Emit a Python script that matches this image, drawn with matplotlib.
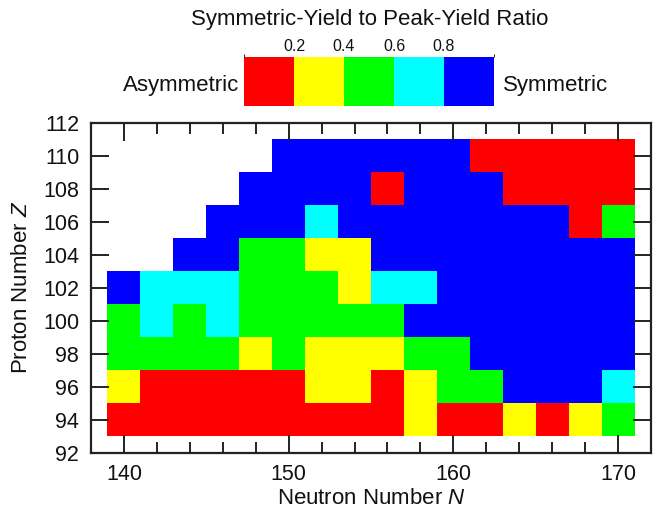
import numpy as np
import matplotlib
matplotlib.use("Agg")
import matplotlib.pyplot as plt
from matplotlib.colors import ListedColormap, BoundaryNorm
from matplotlib.cm import ScalarMappable

plt.rcParams['font.family'] = ['Liberation Sans', 'DejaVu Sans']
plt.rcParams['mathtext.fontset'] = 'custom'
plt.rcParams['mathtext.rm'] = 'Liberation Sans'
plt.rcParams['mathtext.it'] = 'Liberation Sans:italic'

# Neutron and proton numbers of the nuclei
neutrons = [140, 142, 144, 146, 148, 150, 152, 154, 156, 158, 160, 162, 164, 166, 168, 170]
protons = [94, 96, 98, 100, 102, 104, 106, 108, 110]

# Symmetric-yield / peak-yield ratio per nucleus (rows: Z, columns: N); None = not computed
_ = None
ratio_z94 = [0.1, 0.1, 0.1, 0.1, 0.1, 0.1, 0.1, 0.1, 0.1, 0.3, 0.1, 0.1, 0.3, 0.1, 0.3, 0.5]
ratio_z96 = [0.3, 0.1, 0.1, 0.1, 0.1, 0.1, 0.3, 0.3, 0.1, 0.3, 0.5, 0.5, 0.9, 0.9, 0.9, 0.7]
ratio_z98 = [0.5, 0.5, 0.5, 0.5, 0.3, 0.5, 0.3, 0.3, 0.3, 0.5, 0.5, 0.9, 0.9, 0.9, 0.9, 0.9]
ratio_z100 = [0.5, 0.7, 0.5, 0.7, 0.5, 0.5, 0.5, 0.5, 0.5, 0.9, 0.9, 0.9, 0.9, 0.9, 0.9, 0.9]
ratio_z102 = [0.9, 0.7, 0.7, 0.7, 0.5, 0.5, 0.5, 0.3, 0.7, 0.7, 0.9, 0.9, 0.9, 0.9, 0.9, 0.9]
ratio_z104 = [_, _, 0.9, 0.9, 0.5, 0.5, 0.3, 0.3, 0.9, 0.9, 0.9, 0.9, 0.9, 0.9, 0.9, 0.9]
ratio_z106 = [_, _, _, 0.9, 0.9, 0.9, 0.7, 0.9, 0.9, 0.9, 0.9, 0.9, 0.9, 0.9, 0.1, 0.5]
ratio_z108 = [_, _, _, _, 0.9, 0.9, 0.9, 0.9, 0.1, 0.9, 0.9, 0.9, 0.1, 0.1, 0.1, 0.1]
ratio_z110 = [_, _, _, _, _, 0.9, 0.9, 0.9, 0.9, 0.9, 0.9, 0.1, 0.1, 0.1, 0.1, 0.1]

ratio_rows = [ratio_z94, ratio_z96, ratio_z98, ratio_z100, ratio_z102,
              ratio_z104, ratio_z106, ratio_z108, ratio_z110]

bounds = [0.0, 0.2, 0.4, 0.6, 0.8, 1.0]
colors = ['#ff0000', '#ffff00', '#00ff00', '#00ffff', '#0000ff']
cbar_ticks = [0.2, 0.4, 0.6, 0.8]

ratio = np.array([[np.nan if v is None else v for v in row] for row in ratio_rows], dtype=float)
ratio = np.ma.masked_invalid(ratio)

cmap = ListedColormap(colors)
norm = BoundaryNorm(bounds, cmap.N)

W, H = 669, 519
fig = plt.figure(figsize=(W / 100, H / 100), dpi=100)

ax = fig.add_axes([91 / W, 1 - 452.7 / H, (651 - 91) / W, (452.7 - 122.7) / H])

n_arr = np.array(neutrons)
z_arr = np.array(protons)
x_edges = np.append(n_arr - 1, n_arr[-1] + 1)
y_edges = np.append(z_arr - 1, z_arr[-1] + 1)
ax.pcolormesh(x_edges, y_edges, ratio, cmap=cmap, norm=norm, edgecolors='none')

ax.set_xlim(138, 172)
ax.set_ylim(92, 112)
ax.set_xticks([140, 150, 160, 170])
ax.set_xticks(np.arange(140, 172, 2), minor=True)
ax.set_yticks(np.arange(92, 113, 2))

ax.tick_params(which='both', direction='in', top=True, right=True, labelsize=15.5,
               width=1.4, color='#222222', labelcolor='#111111')
ax.tick_params(which='major', length=13)
ax.tick_params(which='minor', length=8)
ax.tick_params(axis='x', which='major', pad=8)
ax.tick_params(axis='y', which='major', pad=8.5)
for s in ax.spines.values():
    s.set_linewidth(1.6)
    s.set_color('#222222')

ax.set_xlabel('Neutron Number $\\mathit{N}$', fontsize=16, color='#111111', labelpad=2)
ax.set_ylabel('Proton Number $\\mathit{Z}$', fontsize=16, color='#111111', labelpad=8)

# Discrete colour key above the map
cax = fig.add_axes([244 / W, 1 - 106 / H, (494 - 244) / W, (106 - 57) / H])
cb = fig.colorbar(ScalarMappable(norm=norm, cmap=cmap), cax=cax,
                  orientation='horizontal', ticks=cbar_ticks)
cb.outline.set_visible(False)
cax.xaxis.set_ticks_position('top')
cax.tick_params(length=0, labelsize=11.5, pad=2, labelcolor='#111111')
cax.set_xticklabels([f'{t:.1f}' for t in cbar_ticks])

fig.text(239 / W, 1 - 91.5 / H, 'Asymmetric', ha='right', va='baseline', fontsize=16, color='#111111')
fig.text(503 / W, 1 - 91.5 / H, 'Symmetric', ha='left', va='baseline', fontsize=16, color='#111111')
fig.text(370 / W, 1 - 25 / H, 'Symmetric-Yield to Peak-Yield Ratio', ha='center', va='baseline',
         fontsize=16, color='#111111')

fig.savefig('out.png', dpi=100)
